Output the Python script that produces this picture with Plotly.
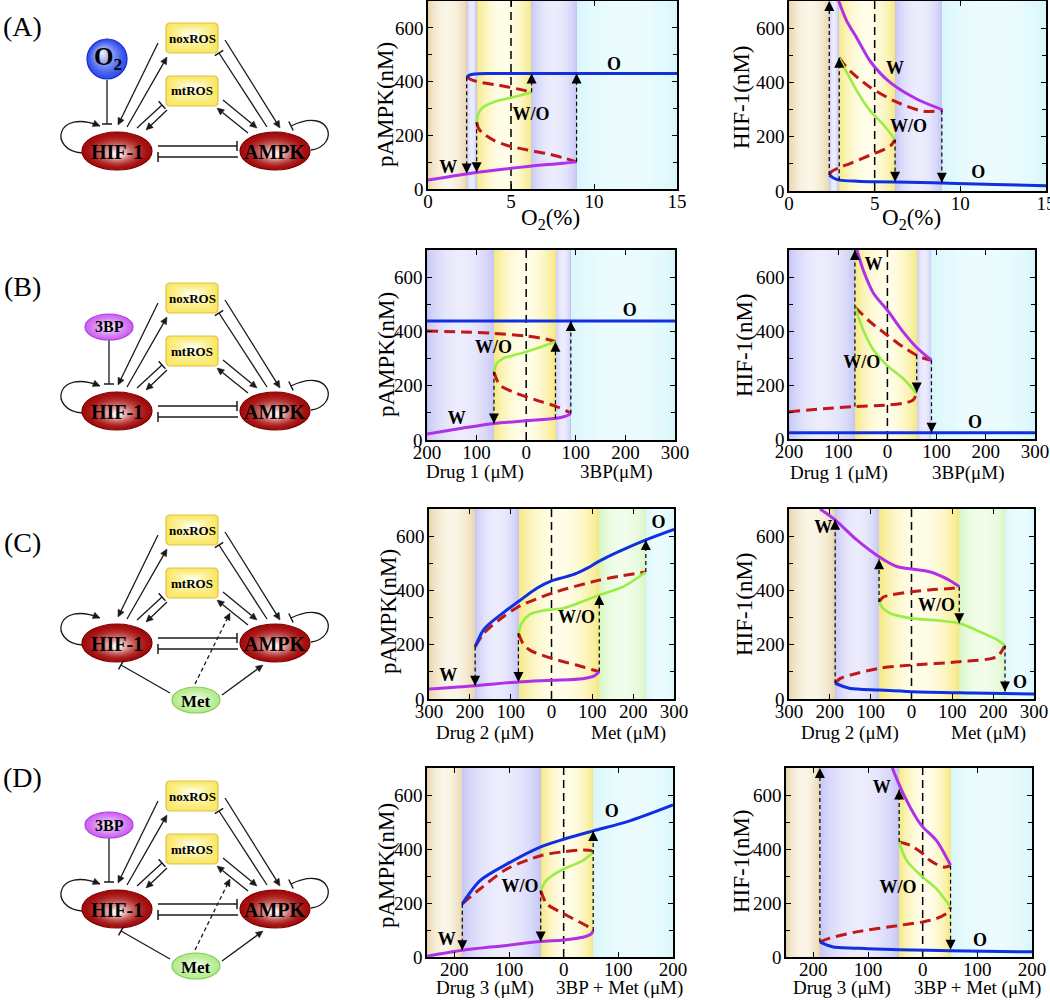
import numpy as np
import plotly.graph_objects as go

FONT = "Liberation Serif"
CW, CH = 1050, 1000

# ======================= DATA =======================
# ---- Panel A : pAMPK vs O2 ----
A1_W_x = [0, 1, 2, 3, 4, 5, 6, 7, 8, 8.95]
A1_W_y = [33, 43, 53, 62, 70, 77, 84, 90, 95, 101]
A1_O_x = [2.33, 2.5, 2.8, 3.5, 5, 10, 15]
A1_O_y = [416, 424, 428, 430, 430, 430, 430]
A1_WO_x = [2.93, 3.03, 3.33, 3.94, 4.74, 5.54, 6.24]
A1_WO_y = [249, 280, 305, 323, 336, 348, 360]
A1_U1_x = [2.33, 2.6, 2.93, 4.0, 4.73, 5.6, 6.24]
A1_U1_y = [416, 407, 400, 389, 381, 370, 360]
A1_U2_x = [2.93, 3.05, 3.33, 4.0, 4.73, 6.0, 7.14, 8.2, 8.95]
A1_U2_y = [249, 225, 206, 180, 163, 145, 132, 115, 101]
A1_ARR_x = [2.33, 2.93, 6.24, 8.95]
A1_ARR_from = [416, 249, 360, 101]
A1_ARR_to = [58, 62, 430, 430]
A1_BANDS = [0, 2.35, 2.93, 6.22, 8.95, 15]
A1_BAND_COL = ["tan", "lav", "yel", "lav", "cyan"]
A1_LAB = ["O", "W/O", "W"]
A1_LAB_x = [11.2, 6.2, 1.22]
A1_LAB_y = [459, 274, 77]

# ---- Panel A : HIF-1 vs O2 ----
A2_W_x = [2.9, 3.37, 3.95, 4.73, 5.9, 7.45, 8.97]
A2_W_y = [700, 626, 565, 479, 400, 339, 299]
A2_O_x = [2.35, 2.6, 2.96, 4, 5, 7, 9.8, 12, 15]
A2_O_y = [59, 48, 40, 36, 34, 32, 28, 24, 19]
A2_WO_x = [2.93, 3.37, 3.95, 4.73, 5.5, 6.19]
A2_WO_y = [491, 437, 370, 296, 245, 190]
A2_U1_x = [2.93, 3.2, 3.56, 4.73, 6.3, 7.84, 8.97]
A2_U1_y = [491, 468, 443, 382, 327, 294, 297]
A2_U2_x = [2.35, 2.5, 3.0, 3.56, 4.73, 5.9, 6.19]
A2_U2_y = [59, 72, 88, 101, 132, 165, 190]
A2_ARR_x = [2.35, 2.93, 6.19, 8.92]
A2_ARR_from = [59, 40, 190, 297]
A2_ARR_to = [700, 491, 34, 30]
A2_BANDS = [0, 2.35, 2.89, 6.19, 8.92, 15]
A2_BAND_COL = ["tan", "lav", "yel", "lav", "cyan"]
A2_LAB = ["W", "W/O", "O"]
A2_LAB_x = [6.19, 6.97, 11.05]
A2_LAB_y = [449, 235, 65]

A_XRANGE = [0, 15]
A_XTICKS = [0, 5, 10, 15]
A_XTICKTEXT = ["0", "5", "10", "15"]
A_VLINE = 5

# ---- Panel B : pAMPK vs Drug 1 / 3BP ----
B1_W_x = [-200, -130, -65, 0, 61, 80, 90]
B1_W_y = [22, 43, 61, 71, 80, 88, 98]
B1_O_x = [-200, 0, 300]
B1_O_y = [438, 438, 438]
B1_WO_x = [-65, -59.5, -46, -19.6, 0, 26.9, 59]
B1_WO_y = [251, 282, 301, 315, 325, 341, 362]
B1_U1_x = [-200, -130, -65, 0, 40, 59]
B1_U1_y = [402, 398, 393, 383, 372, 362]
B1_U2_x = [-65, -60, -53, -19.6, 20.6, 61, 80, 90]
B1_U2_y = [251, 225, 202, 172, 147, 123, 108, 98]
B1_ARR_x = [-65, 59, 90]
B1_ARR_from = [251, 80, 98]
B1_ARR_to = [61, 362, 438]
B1_BANDS = [-200, -65, 59, 90, 300]
B1_BAND_COL = ["lav", "yel", "lav", "cyan"]
B1_LAB = ["O", "W/O", "W"]
B1_LAB_x = [209, -66, -140]
B1_LAB_y = [472, 337, 74]

# ---- Panel B : HIF-1 vs Drug 1 / 3BP ----
B2_W_x = [-62, -49, -28, 0, 32, 60, 89.6]
B2_W_y = [700, 625, 539, 477, 397, 338, 292]
B2_O_x = [-200, 0, 300]
B2_O_y = [23, 23, 23]
B2_WO_x = [-66, -49, -28, 2.7, 32, 59.6]
B2_WO_y = [489, 403, 329, 267, 224, 168]
B2_U1_x = [-66, -35, 0, 32, 66, 89.6]
B2_U1_y = [489, 434, 384, 341, 304, 292]
B2_U2_x = [-200, -130, -66, 3, 40, 52, 59.6]
B2_U2_y = [101, 112, 120, 126, 135, 144, 168]
B2_ARR_x = [-66, 59.6, 89.6]
B2_ARR_from = [120, 310, 292]
B2_ARR_to = [700, 172, 23]
B2_BANDS = [-200, -66, 59.6, 89.6, 300]
B2_BAND_COL = ["lav", "yel", "lav", "cyan"]
B2_LAB = ["W", "W/O", "O"]
B2_LAB_x = [-28, -52, 178]
B2_LAB_y = [643, 280, 58]

B_XRANGE = [-200, 300]
B_XTICKS = [-200, -100, 0, 100, 200, 300]
B_XTICKTEXT = ["200", "100", "0", "100", "200", "300"]
B_XLABELS = ["Drug 1 (μM)", "3BP(μM)"]

# ---- Panel C : pAMPK vs Drug 2 / Met ----
C1_W_x = [-300, -187, -81, 0, 76, 105, 117]
C1_W_y = [37, 49, 63, 69, 75, 85, 101]
C1_O_x = [-187, -167, -150, -118, -81, -36, 0, 30, 61, 90, 117, 231, 300]
C1_O_y = [193, 254, 280, 318, 359, 408, 435, 448, 463, 484, 508, 586, 625]
C1_WO_x = [-81, -73, -53, -20, 0, 29, 117, 176, 231]
C1_WO_y = [242, 279, 312, 326, 330, 334, 383, 414, 468]
C1_U1_x = [-187, -167, -150, -118, -81, 0, 117, 231]
C1_U1_y = [193, 240, 265, 303, 340, 389, 438, 468]
C1_U2_x = [-81, -70, -53, 0, 61, 100, 117]
C1_U2_y = [242, 205, 180, 150, 125, 108, 101]
C1_ARR_x = [-187, -81, 117, 231]
C1_ARR_from = [193, 242, 101, 468]
C1_ARR_to = [49, 63, 383, 586]
C1_BANDS = [-300, -187, -81, 117, 231, 300]
C1_BAND_COL = ["tan", "lav", "yel", "grn", "cyan"]
C1_LAB = ["O", "W/O", "W"]
C1_LAB_x = [262, 61, -253]
C1_LAB_y = [647, 297, 82]

# ---- Panel C : HIF-1 vs Drug 2 / Met ----
C2_W_x = [-224, -187, -134, -79.5, -36, 0, 44, 90, 117]
C2_W_y = [700, 660, 586, 524, 488, 479, 469, 440, 414]
C2_O_x = [-187, -165, -150, -79.5, 0, 150, 300]
C2_O_y = [58, 45, 39, 33, 27, 22, 18]
C2_WO_x = [-79.5, -70, -53, 0, 60, 117, 176, 210, 229]
C2_WO_y = [357, 335, 316, 297, 290, 279, 242, 218, 197]
C2_U1_x = [-79.5, -70, -53, 0, 44, 100, 117]
C2_U1_y = [357, 375, 383, 395, 402, 408, 412]
C2_U2_x = [-187, -175, -150, -79.5, 0, 117, 209, 229]
C2_U2_y = [58, 75, 88, 113, 125, 137, 156, 197]
C2_ARR_x = [-187, -79.5, 117, 229]
C2_ARR_from = [58, 357, 414, 197]
C2_ARR_to = [660, 515, 279, 28]
C2_BANDS = [-300, -187, -79.5, 117, 229, 300]
C2_BAND_COL = ["tan", "lav", "yel", "grn", "cyan"]
C2_LAB = ["W", "W/O", "O"]
C2_LAB_x = [-216, 61, 266]
C2_LAB_y = [629, 340, 58]

C_XRANGE = [-300, 300]
C_XTICKS = [-300, -200, -100, 0, 100, 200, 300]
C_XTICKTEXT = ["300", "200", "100", "0", "100", "200", "300"]
C_XLABELS = ["Drug 2 (μM)", "Met (μM)"]

# ---- Panel D : pAMPK vs Drug 3 / 3BP + Met ----
D1_W_x = [-250, -185.5, -104, -42, 0, 35, 50, 54]
D1_W_y = [3, 25, 43, 57, 63, 73, 85, 96]
D1_O_x = [-185.5, -153, -104, -42, 0, 54, 121, 200]
D1_O_y = [197, 283, 344, 408, 436, 467, 504, 563]
D1_WO_x = [-42, -35, -25.4, 0, 35, 54]
D1_WO_y = [246, 275, 295, 326, 357, 388]
D1_U1_x = [-185.5, -153, -104, -42, 0, 35, 50, 54]
D1_U1_y = [197, 252, 326, 375, 390, 396, 394, 388]
D1_U2_x = [-42, -31, 0, 35, 50, 54]
D1_U2_y = [246, 197, 160, 123, 105, 96]
D1_ARR_x = [-185.5, -42, 54]
D1_ARR_from = [197, 246, 96]
D1_ARR_to = [25, 57, 467]
D1_BANDS = [-250, -185.5, -42, 54, 200]
D1_BAND_COL = ["tan", "lav", "yel", "cyan"]
D1_LAB = ["O", "W/O", "W"]
D1_LAB_x = [88, -80, -214]
D1_LAB_y = [535, 258, 62]

# ---- Panel D : HIF-1 vs Drug 3 / 3BP + Met ----
D2_W_x = [-55.6, -35.6, -11, 0, 25, 51]
D2_W_y = [700, 605, 513, 482, 432, 340]
D2_O_x = [-188, -175, -163.5, -100, -43, 50, 200]
D2_O_y = [56, 44, 37, 31, 27, 23, 19]
D2_WO_x = [-43, -29.5, 0, 25, 51]
D2_WO_y = [426, 358, 296, 253, 185]
D2_U1_x = [-43, -23, 0, 13, 37.7, 51]
D2_U1_y = [426, 414, 383, 358, 333, 338]
D2_U2_x = [-188, -170, -121, -43, 0, 25, 47, 51]
D2_U2_y = [56, 70, 93, 117, 130, 142, 167, 185]
D2_ARR_x = [-188, -43, 51]
D2_ARR_from = [56, 426, 338]
D2_ARR_to = [700, 620, 27]
D2_BANDS = [-250, -188, -43, 51, 200]
D2_BAND_COL = ["tan", "lav", "yel", "cyan"]
D2_LAB = ["W", "W/O", "O"]
D2_LAB_x = [-75, -45, 105]
D2_LAB_y = [624, 253, 56]

D_XRANGE = [-250, 200]
D_XTICKS = [-200, -100, 0, 100, 200]
D_XTICKTEXT = ["200", "100", "0", "100", "200"]
D_XLABELS = ["Drug 3 (μM)", "3BP + Met (μM)"]

Y_RANGE = [0, 700]
Y_TICKS = [0, 200, 400, 600]
Y_TICKTEXT = ["0", "200", "400", "600"]
Y_MINOR = [100, 300, 500]

# ======================= STYLE =======================
C_W = "#b030e8"
C_O = "#1030e0"
C_WO = "#99ee44"
C_U = "#c01818"

BAND_COL = {
    "tan": ((230, 210, 165), (250, 245, 230)),
    "lav": ((195, 195, 245), (236, 236, 253)),
    "yel": ((245, 230, 120), (255, 253, 232)),
    "cyan": ((215, 246, 251), (236, 252, 254)),
    "grn": ((215, 245, 195), (241, 253, 234)),
}


def mix(a, b, f):
    return tuple(int(round(a[i] + (b[i] - a[i]) * f)) for i in range(3))


def rgb(c):
    return "rgb(%d,%d,%d)" % c


PANELS = [
    dict(W=(A1_W_x, A1_W_y), O=(A1_O_x, A1_O_y), WO=(A1_WO_x, A1_WO_y),
         U=[(A1_U1_x, A1_U1_y), (A1_U2_x, A1_U2_y)],
         arr=(A1_ARR_x, A1_ARR_from, A1_ARR_to), bands=(A1_BANDS, A1_BAND_COL),
         lab=(A1_LAB, A1_LAB_x, A1_LAB_y), xr=A_XRANGE, ticks=(A_XTICKS, A_XTICKTEXT),
         vline=A_VLINE, dom=((428, 677), (1, 189)), ytitle="pAMPK(nM)", yt_pos=(386, 105),
         xtitles=[("O<sub>2</sub>(%)", 550, 219, 23)]),
    dict(W=(A2_W_x, A2_W_y), O=(A2_O_x, A2_O_y), WO=(A2_WO_x, A2_WO_y),
         U=[(A2_U1_x, A2_U1_y), (A2_U2_x, A2_U2_y)],
         arr=(A2_ARR_x, A2_ARR_from, A2_ARR_to), bands=(A2_BANDS, A2_BAND_COL),
         lab=(A2_LAB, A2_LAB_x, A2_LAB_y), xr=A_XRANGE, ticks=(A_XTICKS, A_XTICKTEXT),
         vline=A_VLINE, dom=((789, 1046), (1, 191)), ytitle="HIF-1(nM)", yt_pos=(742, 97),
         xtitles=[("O<sub>2</sub>(%)", 911, 219, 23)]),
    dict(W=(B1_W_x, B1_W_y), O=(B1_O_x, B1_O_y), WO=(B1_WO_x, B1_WO_y),
         U=[(B1_U1_x, B1_U1_y), (B1_U2_x, B1_U2_y)],
         arr=(B1_ARR_x, B1_ARR_from, B1_ARR_to), bands=(B1_BANDS, B1_BAND_COL),
         lab=(B1_LAB, B1_LAB_x, B1_LAB_y), xr=B_XRANGE, ticks=(B_XTICKS, B_XTICKTEXT),
         vline=0, dom=((427, 675), (250, 440)), ytitle="pAMPK(nM)", yt_pos=(386, 355),
         xtitles=[(B_XLABELS[0], 475, 472, 19), (B_XLABELS[1], 616, 472, 19)]),
    dict(W=(B2_W_x, B2_W_y), O=(B2_O_x, B2_O_y), WO=(B2_WO_x, B2_WO_y),
         U=[(B2_U1_x, B2_U1_y), (B2_U2_x, B2_U2_y)],
         arr=(B2_ARR_x, B2_ARR_from, B2_ARR_to), bands=(B2_BANDS, B2_BAND_COL),
         lab=(B2_LAB, B2_LAB_x, B2_LAB_y), xr=B_XRANGE, ticks=(B_XTICKS, B_XTICKTEXT),
         vline=0, dom=((789, 1035), (250, 439)), ytitle="HIF-1(nM)", yt_pos=(744, 345),
         xtitles=[(B_XLABELS[0], 839, 473, 19), (B_XLABELS[1], 968, 473, 19)]),
    dict(W=(C1_W_x, C1_W_y), O=(C1_O_x, C1_O_y), WO=(C1_WO_x, C1_WO_y),
         U=[(C1_U1_x, C1_U1_y), (C1_U2_x, C1_U2_y)],
         arr=(C1_ARR_x, C1_ARR_from, C1_ARR_to), bands=(C1_BANDS, C1_BAND_COL),
         lab=(C1_LAB, C1_LAB_x, C1_LAB_y), xr=C_XRANGE, ticks=(C_XTICKS, C_XTICKTEXT),
         vline=0, dom=((429, 674), (509, 699)), ytitle="pAMPK(nM)", yt_pos=(388, 612),
         xtitles=[(C_XLABELS[0], 485, 733, 19), (C_XLABELS[1], 628, 733, 19)]),
    dict(W=(C2_W_x, C2_W_y), O=(C2_O_x, C2_O_y), WO=(C2_WO_x, C2_WO_y),
         U=[(C2_U1_x, C2_U1_y), (C2_U2_x, C2_U2_y)],
         arr=(C2_ARR_x, C2_ARR_from, C2_ARR_to), bands=(C2_BANDS, C2_BAND_COL),
         lab=(C2_LAB, C2_LAB_x, C2_LAB_y), xr=C_XRANGE, ticks=(C_XTICKS, C_XTICKTEXT),
         vline=0, dom=((789, 1034), (509, 699)), ytitle="HIF-1(nM)", yt_pos=(744, 604),
         xtitles=[(C_XLABELS[0], 850, 733, 19), (C_XLABELS[1], 988, 733, 19)]),
    dict(W=(D1_W_x, D1_W_y), O=(D1_O_x, D1_O_y), WO=(D1_WO_x, D1_WO_y),
         U=[(D1_U1_x, D1_U1_y), (D1_U2_x, D1_U2_y)],
         arr=(D1_ARR_x, D1_ARR_from, D1_ARR_to), bands=(D1_BANDS, D1_BAND_COL),
         lab=(D1_LAB, D1_LAB_x, D1_LAB_y), xr=D_XRANGE, ticks=(D_XTICKS, D_XTICKTEXT),
         vline=0, dom=((427, 673), (768, 957)), ytitle="pAMPK(nM)", yt_pos=(386, 866),
         xtitles=[(D_XLABELS[0], 485, 988, 19), (D_XLABELS[1], 619, 988, 19)]),
    dict(W=(D2_W_x, D2_W_y), O=(D2_O_x, D2_O_y), WO=(D2_WO_x, D2_WO_y),
         U=[(D2_U1_x, D2_U1_y), (D2_U2_x, D2_U2_y)],
         arr=(D2_ARR_x, D2_ARR_from, D2_ARR_to), bands=(D2_BANDS, D2_BAND_COL),
         lab=(D2_LAB, D2_LAB_x, D2_LAB_y), xr=D_XRANGE, ticks=(D_XTICKS, D_XTICKTEXT),
         vline=0, dom=((786, 1032), (768, 957)), ytitle="HIF-1(nM)", yt_pos=(741, 861),
         xtitles=[(D_XLABELS[0], 842, 988, 19), (D_XLABELS[1], 977, 988, 19)]),
]


def P(x, y):
    return x / CW, 1 - y / CH


fig = go.Figure()
annotations = []
shapes = []
layout_axes = {}

for i, pn in enumerate(PANELS, start=1):
    xa = "x" if i == 1 else "x%d" % i
    ya = "y" if i == 1 else "y%d" % i
    # background bands (gradient) via heatmap
    N = 320
    xr = pn["xr"]
    edges = np.linspace(xr[0], xr[1], N + 1)
    centers = 0.5 * (edges[:-1] + edges[1:])
    bedges, bcols = pn["bands"]
    cscale = []
    for j, c in enumerate(centers):
        k = int(np.clip(np.searchsorted(bedges, c) - 1, 0, len(bcols) - 1))
        t = (c - bedges[k]) / (bedges[k + 1] - bedges[k])
        e, m = BAND_COL[bcols[k]]
        f = np.sin(np.pi * np.clip(t, 0, 1)) ** 0.7
        cscale.append([j / (N - 1), rgb(mix(e, m, f))])
    fig.add_trace(go.Heatmap(x=edges, y=Y_RANGE, z=[list(range(N))], colorscale=cscale,
                             zmin=0, zmax=N - 1, showscale=False, hoverinfo="skip",
                             xaxis=xa, yaxis=ya))
    # reference dashed vertical line
    fig.add_trace(go.Scatter(x=[pn["vline"], pn["vline"]], y=Y_RANGE, mode="lines",
                             line=dict(color="black", width=1.5, dash="8px,5px"),
                             hoverinfo="skip", xaxis=xa, yaxis=ya))
    # unstable branches
    for ux, uy in pn["U"]:
        fig.add_trace(go.Scatter(x=ux, y=uy, mode="lines", line_shape="spline",
                                 line=dict(color=C_U, width=3, dash="11px,6px", smoothing=0.8),
                                 hoverinfo="skip", xaxis=xa, yaxis=ya))
    for key, col, wd in (("WO", C_WO, 2.6), ("W", C_W, 3), ("O", C_O, 3)):
        bx, by = pn[key]
        fig.add_trace(go.Scatter(x=bx, y=by, mode="lines", line_shape="spline",
                                 line=dict(color=col, width=wd, smoothing=0.8),
                                 hoverinfo="skip", xaxis=xa, yaxis=ya))
    # transition arrows
    ax_, a0, a1 = pn["arr"]
    for xx, y0, y1 in zip(ax_, a0, a1):
        fig.add_trace(go.Scatter(x=[xx, xx], y=[y0, y1], mode="lines",
                                 line=dict(color="black", width=1.2, dash="4px,3px"),
                                 hoverinfo="skip", xaxis=xa, yaxis=ya))
        fig.add_trace(go.Scatter(x=[xx], y=[y1], mode="markers",
                                 marker=dict(symbol="arrow-up" if y1 > y0 else "arrow-down",
                                             size=10, color="black", line=dict(width=0)),
                                 hoverinfo="skip", xaxis=xa, yaxis=ya))
    # state labels
    lt, lx, ly = pn["lab"]
    fig.add_trace(go.Scatter(x=lx, y=ly, mode="text", text=["<b>%s</b>" % s for s in lt],
                             textfont=dict(family=FONT, size=18, color="black"),
                             hoverinfo="skip", xaxis=xa, yaxis=ya))
    (dx0, dx1), (dy0, dy1) = pn["dom"]
    common = dict(showline=True, linecolor="black", linewidth=1.5, mirror="ticks",
                  ticks="inside", ticklen=5, tickwidth=1, tickcolor="black",
                  showgrid=False, zeroline=False, fixedrange=True, automargin=False,
                  ticklabeloverflow="allow",
                  tickfont=dict(family=FONT, size=19, color="black"))
    layout_axes["xaxis" if i == 1 else "xaxis%d" % i] = dict(
        domain=[dx0 / CW, dx1 / CW], range=xr, anchor=ya, ticklabelstandoff=-6,
        tickmode="array", tickvals=pn["ticks"][0], ticktext=pn["ticks"][1], **common)
    layout_axes["yaxis" if i == 1 else "yaxis%d" % i] = dict(
        domain=[1 - dy1 / CH, 1 - dy0 / CH], range=Y_RANGE, anchor=xa, ticklabelstandoff=-1,
        tickmode="array", tickvals=Y_TICKS, ticktext=Y_TICKTEXT,
        minor=dict(tickmode="array", tickvals=Y_MINOR, ticks="inside", ticklen=4,
                   tickcolor="black", showgrid=False),
        **common)
    # axis titles
    px_, py_ = P(*pn["yt_pos"])
    annotations.append(dict(text=pn["ytitle"], x=px_, y=py_, xref="paper", yref="paper",
                            showarrow=False, textangle=-90, xanchor="center", yanchor="middle",
                            font=dict(family=FONT, size=23, color="black")))
    for txt, tx, ty, fs in pn["xtitles"]:
        px_, py_ = P(tx, ty)
        annotations.append(dict(text=txt, x=px_, y=py_, xref="paper", yref="paper",
                                showarrow=False, xanchor="center", yanchor="middle",
                                font=dict(family=FONT, size=fs, color="black")))

# ======================= NETWORK DIAGRAMS =======================
LC = "#1a1a1a"


def fmt(p):
    a, b = P(*p)
    return "%.5f,%.5f" % (a, b)


def add_path(d, color=LC, width=1.3, fill=None, dash=None):
    sh = dict(type="path", xref="paper", yref="paper", path=d,
              line=dict(color=color, width=width))
    if dash:
        sh["line"]["dash"] = dash
    if fill:
        sh["fillcolor"] = fill
    shapes.append(sh)


def head(tip, d, kind):
    d = d / np.linalg.norm(d)
    n = np.array([-d[1], d[0]])
    if kind == "arrow":
        b = tip - d * 7
        add_path("M%s L%s L%s Z" % (fmt(tip), fmt(b + n * 3.3), fmt(b - n * 3.3)),
                 width=0.5, fill=LC)
        return b
    add_path("M%s L%s" % (fmt(tip + n * 5), fmt(tip - n * 5)), width=1.5)
    return tip


def arrow(p0, p1, kind, dash=None):
    p0 = np.array(p0, float)
    p1 = np.array(p1, float)
    end = head(p1, p1 - p0, kind)
    add_path("M%s L%s" % (fmt(p0), fmt(end)), dash=dash)


def loop(p0, c1, c2, p3, kind):
    p0, c1, c2, p3 = [np.array(v, float) for v in (p0, c1, c2, p3)]
    head(p3, p3 - c2, kind)
    add_path("M%s C%s %s %s" % (fmt(p0), fmt(c1), fmt(c2), fmt(p3)))


def grad_ellipse(cx, cy, rx, ry, edge, center, border, K=12, shift=(0, 0), power=1.5, shrink=0.9):
    for k in range(K):
        f = k / (K - 1)
        s = 1 - shrink * f
        col = mix(edge, center, f ** power)
        ox, oy = shift[0] * f, shift[1] * f
        x0, y0 = P(cx + ox - rx * s, cy + oy - ry * s)
        x1, y1 = P(cx + ox + rx * s, cy + oy + ry * s)
        shapes.append(dict(type="circle", xref="paper", yref="paper",
                           x0=x0, x1=x1, y0=y1, y1=y0, fillcolor=rgb(col),
                           line=dict(width=1.2 if k == 0 else 0, color=border)))


def rrect_path(cx, cy, hw, hh, r):
    x0, x1, y0, y1 = cx - hw, cx + hw, cy - hh, cy + hh
    pts = [("M", [(x0 + r, y0)]), ("L", [(x1 - r, y0)]), ("Q", [(x1, y0), (x1, y0 + r)]),
           ("L", [(x1, y1 - r)]), ("Q", [(x1, y1), (x1 - r, y1)]), ("L", [(x0 + r, y1)]),
           ("Q", [(x0, y1), (x0, y1 - r)]), ("L", [(x0, y0 + r)]), ("Q", [(x0, y0), (x0 + r, y0)])]
    return " ".join(c + " ".join(fmt(p) for p in ps) for c, ps in pts) + " Z"


def grad_box(cx, cy, hw, hh):
    K = 8
    edge, center, border = (250, 232, 100), (255, 255, 238), "rgb(222,192,70)"
    for k in range(K):
        f = k / (K - 1)
        s = 1 - 0.85 * f
        col = mix(edge, center, f ** 1.2)
        shapes.append(dict(type="path", xref="paper", yref="paper",
                           path=rrect_path(cx, cy - 3 * f, hw * s, hh * s, 4 * s + 0.5),
                           fillcolor=rgb(col),
                           line=dict(width=1.2 if k == 0 else 0, color=border)))


def label(txt, x, y, size, bold=True):
    px_, py_ = P(x, y)
    annotations.append(dict(text="<b>%s</b>" % txt if bold else txt, x=px_, y=py_,
                            xref="paper", yref="paper", showarrow=False,
                            xanchor="center", yanchor="middle",
                            font=dict(family=FONT, size=size, color="black")))


ROW_DY = [0, 260, 492, 758]
ROW_INPUTS = [["O2"], ["3BP"], ["Met"], ["3BP", "Met"]]
ROW_LABELS = ["(A)", "(B)", "(C)", "(D)"]
ROW_LABEL_Y = [26, 286, 542, 777]

for dy, inputs, rl, rly in zip(ROW_DY, ROW_INPUTS, ROW_LABELS, ROW_LABEL_Y):
    def T(p):
        return (p[0], p[1] + dy)

    label(rl, 22, rly, 28, bold=False)
    edges_ = [
        ((158, 43), (118, 125), "arrow"),
        ((127, 127), (167, 57), "arrow"),
        ((137, 128), (162, 105), "bar"),
        ((167, 110), (146, 130), "arrow"),
        ((225, 40), (280, 128), "arrow"),
        ((267, 127), (219, 53), "bar"),
        ((223, 100), (257, 128), "arrow"),
        ((248, 133), (217, 108), "arrow"),
        ((158, 146), (237, 146), "bar"),
        ((238, 157), (158, 157), "bar"),
    ]
    for a, b, k in edges_:
        arrow(T(a), T(b), k)
    loop(T((82, 153)), T((48, 150)), T((56, 108)), T((100, 126)), "arrow")
    loop(T((311, 150)), T((340, 146)), T((332, 106)), T((291, 126)), "bar")

    # nodes
    grad_box(192, 38 + dy, 26, 15)
    grad_box(192, 91 + dy, 26, 15)
    label("noxROS", 192, 38 + dy, 13)
    label("mtROS", 192, 91 + dy, 13)
    for cx in (117, 275):
        grad_ellipse(cx, 151 + dy, 35, 19, (165, 12, 12), (252, 236, 236), "rgb(120,0,0)",
                     K=14, shift=(0, 3), power=1.8, shrink=0.85)
    label("HIF-1", 117, 152 + dy, 20)
    label("AMPK", 275, 152 + dy, 20)

    if "O2" in inputs:
        arrow(T((107, 80)), T((107, 124)), "bar")
        grad_ellipse(107, 59 + dy, 20, 20, (50, 80, 235), (228, 236, 255), "rgb(20,40,210)",
                     K=14, shift=(-5, -6), power=1.3, shrink=0.9)
        label("O<sub>2</sub>", 108, 58 + dy, 25)
    if "3BP" in inputs:
        arrow(T((109, 80)), T((109, 124)), "bar")
        grad_ellipse(109, 67 + dy, 24, 13, (205, 100, 240), (252, 240, 255), "rgb(180,60,230)",
                     K=12, shift=(0, 0), power=1.3, shrink=0.9)
        label("3BP", 109, 67 + dy, 16)
    if "Met" in inputs:
        arrow(T((222, 203)), T((263, 173)), "arrow")
        arrow(T((170, 201)), T((121, 173)), "bar")
        arrow(T((195, 192)), T((230, 121)), "arrow", dash="4px,3px")
        grad_ellipse(196, 208 + dy, 24, 13, (180, 235, 140), (245, 255, 238), "rgb(130,205,90)",
                     K=12, shift=(0, 0), power=1.3, shrink=0.9)
        label("Met", 196, 209 + dy, 17)

fig.update_layout(
    width=CW, height=CH, margin=dict(l=0, r=0, t=0, b=0, autoexpand=False),
    paper_bgcolor="white", plot_bgcolor="white", showlegend=False,
    annotations=annotations, shapes=shapes, **layout_axes)

fig.write_html("out.html", config={"displayModeBar": False},
               post_script="document.body.style.margin='0';document.body.style.overflow='hidden';")
